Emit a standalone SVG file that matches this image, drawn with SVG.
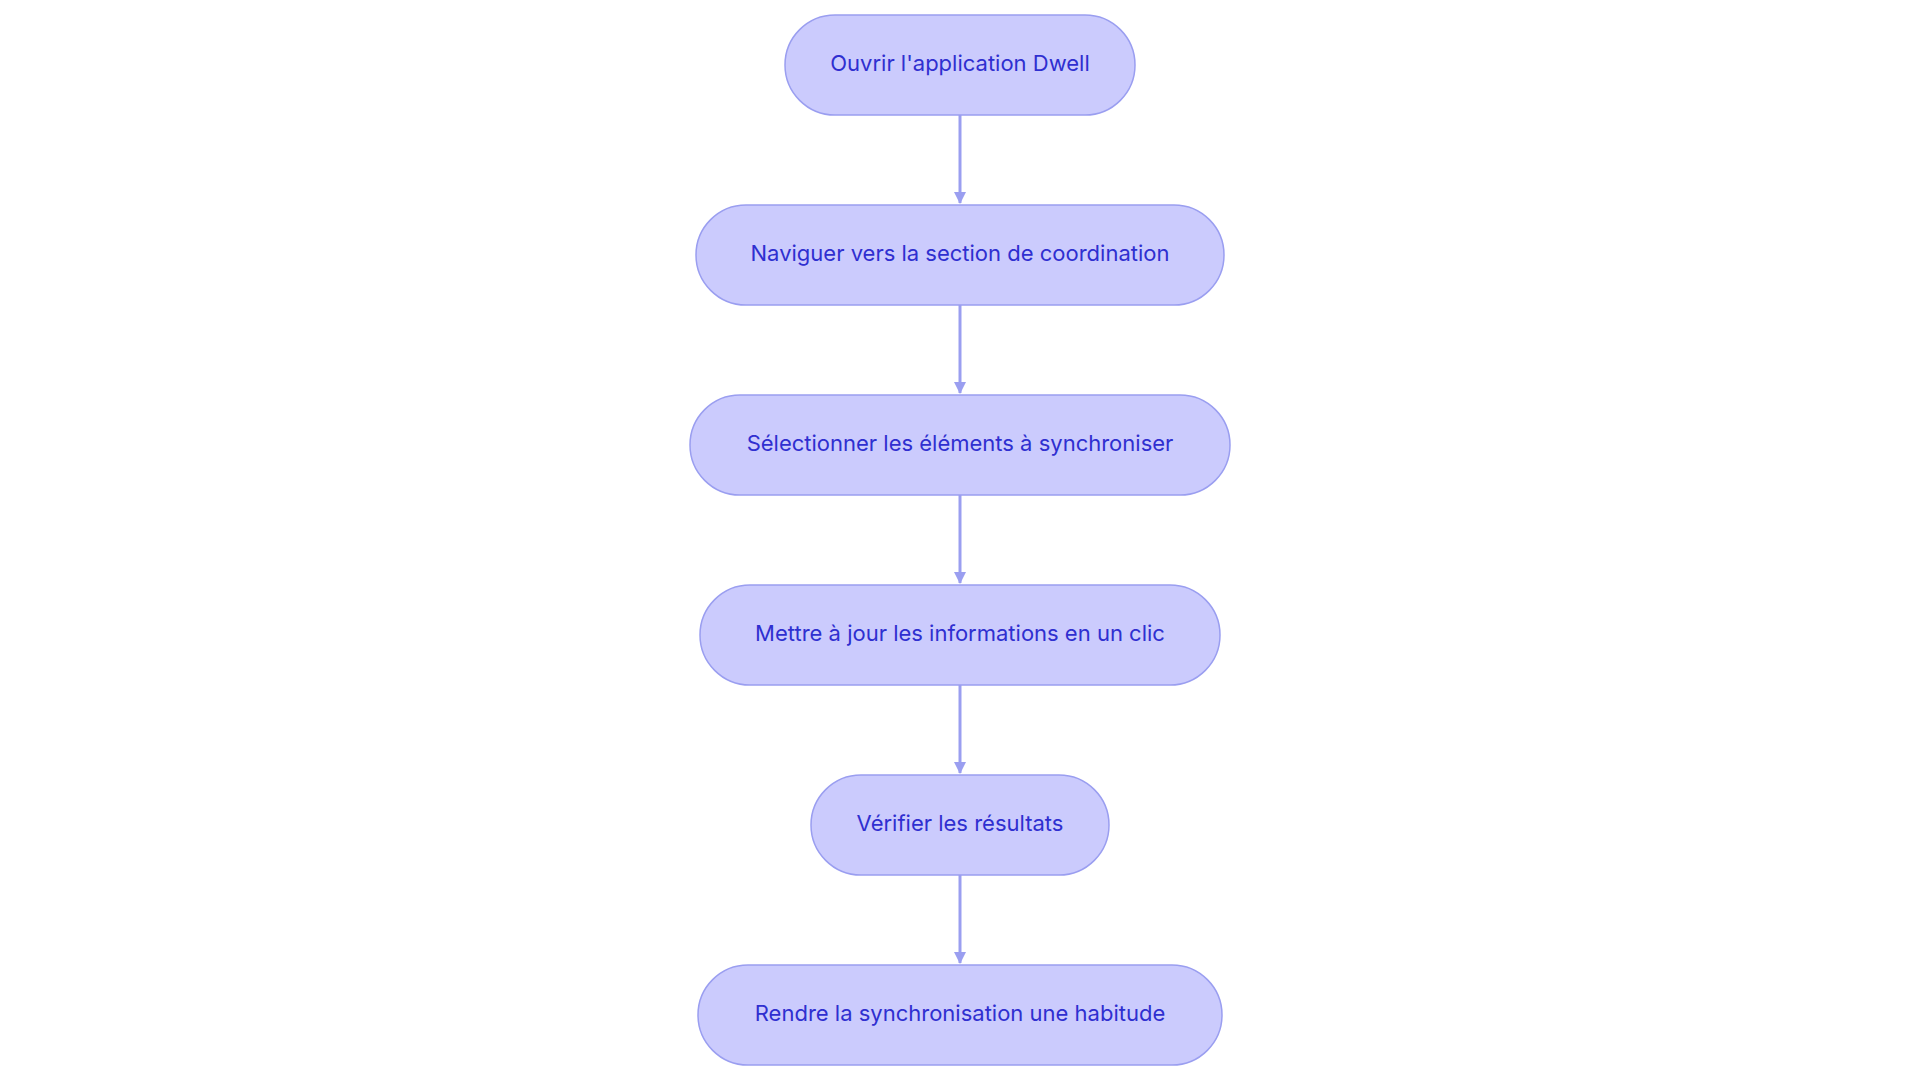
<svg xmlns="http://www.w3.org/2000/svg" width="1920" height="1083" viewBox="0 0 1920 1083">
<style>
.n{fill:#cbcbfd;stroke:#9a9ef0;stroke-width:1.5}
.t{font-family:Inter,"Noto Sans",sans-serif;font-size:22px;fill:#2f2fd0;text-anchor:middle;dominant-baseline:central}
.e{stroke:#9a9ef0;stroke-width:3;fill:none}
</style>
<defs><marker id="a" markerWidth="12" markerHeight="12" refX="11" refY="6" orient="auto" markerUnits="userSpaceOnUse" viewBox="0 0 12 12"><path d="M0,0 L12,6 L0,12 z" fill="#9a9ef0"/></marker></defs>
<rect width="1920" height="1083" fill="#fff"/>
<g id="edges">
<path class="e" d="M960,115 V203" marker-end="url(#a)"/>
<path class="e" d="M960,305 V393" marker-end="url(#a)"/>
<path class="e" d="M960,495 V583" marker-end="url(#a)"/>
<path class="e" d="M960,685 V773" marker-end="url(#a)"/>
<path class="e" d="M960,875 V963" marker-end="url(#a)"/>
</g>
<g id="n1"><rect class="n" x="785" y="15" width="350" height="100" rx="50"/><text class="t" x="960" y="63">Ouvrir l'application Dwell</text></g>
<g id="n2"><rect class="n" x="696" y="205" width="528" height="100" rx="50"/><text class="t" x="960" y="253">Naviguer vers la section de coordination</text></g>
<g id="n3"><rect class="n" x="690" y="395" width="540" height="100" rx="50"/><text class="t" x="960" y="443">Sélectionner les éléments à synchroniser</text></g>
<g id="n4"><rect class="n" x="700" y="585" width="520" height="100" rx="50"/><text class="t" x="960" y="633">Mettre à jour les informations en un clic</text></g>
<g id="n5"><rect class="n" x="811" y="775" width="298" height="100" rx="50"/><text class="t" x="960" y="823">Vérifier les résultats</text></g>
<g id="n6"><rect class="n" x="698" y="965" width="524" height="100" rx="50"/><text class="t" x="960" y="1013">Rendre la synchronisation une habitude</text></g>
</svg>
